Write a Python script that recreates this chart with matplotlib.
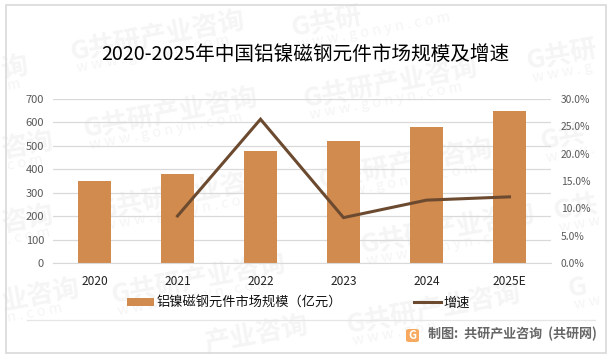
import matplotlib
matplotlib.use('Agg')
import matplotlib.pyplot as plt
from matplotlib.patches import Rectangle, FancyBboxPatch
from matplotlib.lines import Line2D

plt.rcParams['font.family'] = ['Noto Sans CJK SC', 'DejaVu Sans']

W, H = 610, 359

years = ['2020', '2021', '2022', '2023', '2024', '2025E']
market_size = [350, 380, 480, 520, 580, 650]
growth = [None, 8.6, 26.3, 8.3, 11.5, 12.1]
left_ticks = [0, 100, 200, 300, 400, 500, 600, 700]
right_ticks = [0, 5, 10, 15, 20, 25, 30]
title = '2020-2025年中国铝镍磁钢元件市场规模及增速'
bar_label = '铝镍磁钢元件市场规模（亿元）'
line_label = '增速'
source = '制图:  共研产业咨询  (共研网)'

# watermark pieces: left end in pixels from the top left, name part, web part
marks = [(72, 50, 'G共研产业咨询', 'w w w . g o n y n . c o m'),
         (85, 127, 'G共研产业咨询', 'w w w . g o n y n . c o m'),
         (100, 208, 'G共研产业咨询', 'w w w . g o n y n . c o m'),
         (113, 293, 'G共研产业咨询', 'w w w . g o n y n . c o m'),
         (305, 97, 'G共研产业咨询', 'w w w . g o n y n . c o m'),
         (320, 178, 'G共研产业咨询', 'w w w . g o n y n . c o m'),
         (362, 243, 'G共研产业咨询', 'w w w . g o n y n . c o m'),
         (348, 323, 'G共研产业咨询', 'w w w . g o n'),
         (293, 27, 'G共研', 'w w w . g o n y n . c o m'),
         (528, 60, 'G共研', 'w w w . g'),
         (542, 140, 'G共', 'w w w .'),
         (555, 210, 'G共', 'w w w'),
         (570, 287, 'G', 'w w'),
         (206, 342, '产业咨询', ''),
         (3, 68, '询', 'm'),
         (3, 148, '咨询', 'c o m'),
         (3, 222, '咨询', '. c o m'),
         (3, 300, '业咨询', 'n . c o m')]


def px_x(x):
    return x / W


def px_y(y):
    return 1 - y / H


fig = plt.figure(figsize=(W / 100, H / 100), dpi=100)
fig.patch.set_facecolor('white')

# outer frame
fig.add_artist(Rectangle((px_x(5.5), px_y(352.5)), 600 / W, 348 / H, transform=fig.transFigure,
                         fill=False, edgecolor='#d9d9d9', linewidth=1.2))

# watermark
for x, y, name, web in marks:
    fig.text(px_x(x), px_y(y + 10), name, color='#f5f5f5', fontsize=19, fontweight='bold',
             rotation=10.5, rotation_mode='anchor', ha='left', va='baseline', zorder=-1)
    if web:
        fig.text(px_x(x + 5), px_y(y + 22), web, color='#f5f5f5', fontsize=10.5,
                 rotation=10.5, rotation_mode='anchor', ha='left', va='baseline', zorder=-1)

ax = fig.add_axes([px_x(53), px_y(263), 498 / W, 164 / H])
ax.patch.set_alpha(0)
pos = list(range(len(years)))
bars = ax.bar(pos, market_size, width=0.4, color='#d18b4f', zorder=2)
ax.set_xlim(-0.5, 5.5)
ax.set_ylim(0, 700)
ax.set_yticks(left_ticks)
ax.set_xticks(pos)
ax.set_xticklabels(years, fontsize=8.6, color='#222222')
ax.tick_params(axis='x', length=0, pad=8.5)
ax.tick_params(axis='y', length=0, pad=6.5, labelsize=8, labelcolor='#595959')
ax.grid(axis='y', color='#d9d9d9', linewidth=0.9, zorder=1)
for side in ['top', 'left', 'right']:
    ax.spines[side].set_visible(False)
ax.spines['bottom'].set_color('#d9d9d9')

ax2 = ax.twinx()
ax2.patch.set_alpha(0)
ax2.plot(pos[1:], growth[1:], color='#6b4a2f', linewidth=2.2, solid_joinstyle='miter', zorder=3)
ax2.set_ylim(0, 30)
ax2.set_yticks(right_ticks)
ax2.set_yticklabels([f'{v:.1f}%' for v in right_ticks], fontsize=7.4, color='#595959')
ax2.tick_params(axis='y', length=0, pad=7)
for side in ['top', 'left', 'right', 'bottom']:
    ax2.spines[side].set_visible(False)

fig.text(px_x(305.5), px_y(54), title, fontsize=14.15, color='black', ha='center', va='center')

handles = [bars, Line2D([], [], color='#6b4a2f', linewidth=2.2)]
fig.legend(handles, [bar_label, line_label], ncol=2, frameon=False, fontsize=9.5,
           loc='center', bbox_to_anchor=(px_x(298.5), px_y(303)), handlelength=2,
           handleheight=0.55, handletextpad=0.2, columnspacing=5.5, labelcolor='#111111')

# footer
fig.add_artist(Line2D([px_x(27), px_x(595)], [px_y(320), px_y(320)], color='#e6e6e6', linewidth=0.9))
fig.add_artist(FancyBboxPatch((px_x(406), px_y(342)), 13 / W, 13 / H, boxstyle='round,pad=0,rounding_size=0.005',
                              transform=fig.transFigure, facecolor='#f6a95f', edgecolor='none'))
fig.text(px_x(412.5), px_y(335.5), 'G', fontsize=8, fontweight='bold', color='white', ha='center', va='center')
fig.text(px_x(428), px_y(333.5), source, fontsize=9.4, fontweight='bold', color='#666666', ha='left', va='center')

fig.savefig('out.png', dpi=100)
